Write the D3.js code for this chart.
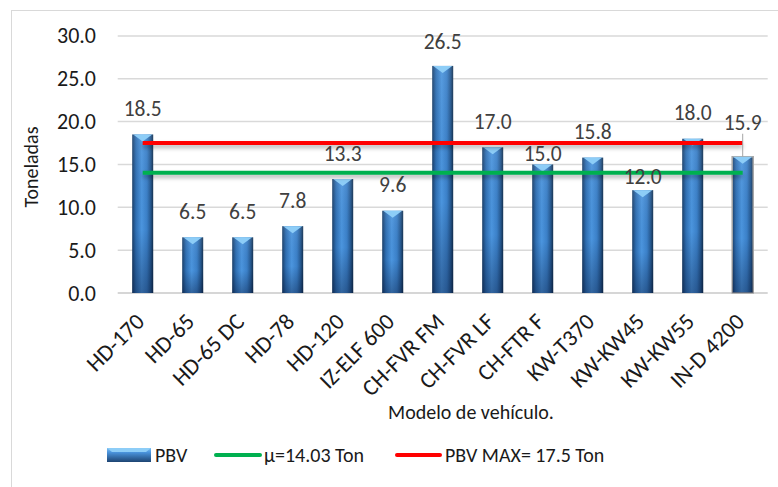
<!DOCTYPE html>
<html>
<head>
<meta charset="utf-8">
<script src="https://cdn.jsdelivr.net/npm/d3@7"></script>
<style>
  html, body { margin: 0; padding: 0; background: #fff; }
  svg { display: block; font-family: Carlito, Lato, "Open Sans", sans-serif; }
</style>
</head>
<body>
<svg id="chart" width="778" height="487"></svg>
<script>
// ---- data ----
const categories = ["HD-170", "HD-65", "HD-65 DC", "HD-78", "HD-120", "IZ-ELF 600", "CH-FVR FM", "CH-FVR LF", "CH-FTR F", "KW-T370", "KW-KW45", "KW-KW55", "IN-D 4200"];
const pbv = [18.5, 6.5, 6.5, 7.8, 13.3, 9.6, 26.5, 17.0, 15.0, 15.8, 12.0, 18.0, 15.9];
const meanValue = 14.03;
const maxValue = 17.5;
const yTicks = [0, 5, 10, 15, 20, 25, 30];
const legendLabels = ["PBV", "μ=14.03 Ton", "PBV MAX= 17.5 Ton"];
const yTitle = "Toneladas";
const xTitle = "Modelo de vehículo.";

// label vertical offsets (px above bar top) — style only
const labelGap = [18.5, 18.5, 18.5, 18.5, 18.5, 18.5, 17, 18.5, 3, 18.5, 6, 18.5, 27];

const svg = d3.select("#chart");
const FS = 20;

const x = d3.scaleBand().domain(categories).range([117.7, 767.7]).paddingInner(0.58).paddingOuter(0.29);
const y = d3.scaleLinear().domain([0, 30]).range([293, 35.9]);

// defs
const defs = svg.append("defs");
const gH = defs.append("linearGradient").attr("id", "barH").attr("x1", "0").attr("x2", "1").attr("y1", "0").attr("y2", "0");
[["0%", "#1a3f69"], ["18%", "#2f6fb3"], ["45%", "#4b95de"], ["70%", "#3b80c8"], ["88%", "#25588f"], ["100%", "#13304f"]]
  .forEach(([o, c]) => gH.append("stop").attr("offset", o).attr("stop-color", c));
const gV = defs.append("linearGradient").attr("id", "barV").attr("x1", "0").attr("x2", "0").attr("y1", "0").attr("y2", "1");
[["0%", "rgba(255,255,255,0.08)"], ["60%", "rgba(0,10,40,0)"], ["100%", "rgba(0,10,40,0.35)"]]
  .forEach(([o, c]) => gV.append("stop").attr("offset", o).attr("stop-color", c));
const f = defs.append("filter").attr("id", "lineShadow").attr("filterUnits", "userSpaceOnUse")
  .attr("x", 0).attr("y", 0).attr("width", 778).attr("height", 487);
f.append("feDropShadow").attr("dx", 0).attr("dy", 3).attr("stdDeviation", 2).attr("flood-color", "#000").attr("flood-opacity", 0.3);
const lg = defs.append("linearGradient").attr("id", "legV").attr("x1", "0").attr("x2", "0").attr("y1", "0").attr("y2", "1");
[["0%", "#7fc0f2"], ["30%", "#4b95de"], ["100%", "#1d4472"]].forEach(([o, c]) => lg.append("stop").attr("offset", o).attr("stop-color", c));

// border
svg.append("rect").attr("x", 11.5).attr("y", 10.5).attr("width", 800).attr("height", 500)
  .attr("fill", "none").attr("stroke", "#d9d9d9").attr("stroke-width", 1);

// gridlines
svg.append("g").selectAll("line").data(yTicks).join("line")
  .attr("x1", 117.7).attr("x2", 767.7)
  .attr("y1", d => y(d)).attr("y2", d => y(d))
  .attr("stroke", d => d === 0 ? "#c8c8c8" : "#d9d9d9").attr("stroke-width", 1.5);

// y axis labels
const yAxis = d3.axisLeft(y).tickValues(yTicks).tickFormat(d3.format(".1f")).tickSize(0).tickPadding(0);
const ya = svg.append("g").attr("transform", "translate(96,0)").call(yAxis);
ya.select(".domain").remove();
ya.selectAll("text").attr("font-size", 22).attr("fill", "#1a1a1a").attr("font-family", "Carlito, Lato, sans-serif");

// bars
const bars = svg.append("g");
bars.selectAll("rect.b").data(pbv).join("rect").attr("class", "b")
  .attr("x", (d, i) => x(categories[i])).attr("width", x.bandwidth())
  .attr("y", d => y(d)).attr("height", d => y(0) - y(d))
  .attr("fill", "url(#barH)")
  .attr("stroke", (d, i) => i === categories.length - 1 ? "#a6a6a6" : "none").attr("stroke-width", 1.5);
bars.selectAll("rect.v").data(pbv).join("rect").attr("class", "v")
  .attr("x", (d, i) => x(categories[i])).attr("width", x.bandwidth())
  .attr("y", d => y(d)).attr("height", d => y(0) - y(d))
  .attr("fill", "url(#barV)");
bars.selectAll("path.tip").data(pbv).join("path").attr("class", "tip")
  .attr("d", (d, i) => {
    const x0 = x(categories[i]), w = x.bandwidth(), t = y(d);
    return `M${x0 + 1},${t} L${x0 + w - 1},${t} L${x0 + w / 2},${t + 7} Z`;
  })
  .attr("fill", "#8dcdf7");

// reference lines
const xFirst = x(categories[0]) + x.bandwidth() / 2;
const xLast = x(categories[categories.length - 1]) + x.bandwidth() / 2;
svg.append("line").attr("x1", xFirst).attr("x2", xLast).attr("y1", y(meanValue)).attr("y2", y(meanValue))
  .attr("stroke", "#00b050").attr("stroke-width", 4).attr("filter", "url(#lineShadow)");
svg.append("line").attr("x1", xFirst).attr("x2", xLast).attr("y1", y(maxValue)).attr("y2", y(maxValue))
  .attr("stroke", "#ff0000").attr("stroke-width", 4).attr("filter", "url(#lineShadow)");

// leader line for last label
{
  const i = categories.length - 1;
  const cx = x(categories[i]) + x.bandwidth() / 2;
  svg.append("line").attr("x1", cx).attr("x2", cx).attr("y1", y(pbv[i]) - labelGap[i] + 4).attr("y2", y(pbv[i]))
    .attr("stroke", "#a6a6a6").attr("stroke-width", 1);
}

// data labels
svg.append("g").selectAll("text").data(pbv).join("text")
  .attr("x", (d, i) => x(categories[i]) + x.bandwidth() / 2)
  .attr("y", (d, i) => y(d) - labelGap[i])
  .attr("text-anchor", "middle").attr("font-size", 21.5).attr("fill", "#404040")
  .text(d => d3.format(".1f")(d));

// x labels
svg.append("g").selectAll("text").data(categories).join("text")
  .attr("transform", d => `translate(${x(d) + x.bandwidth() / 2 + 3},${323}) rotate(-45)`)
  .attr("text-anchor", "end").attr("font-size", 23).attr("fill", "#1a1a1a")
  .text(d => d);

// axis titles
svg.append("text").attr("transform", "translate(38,167) rotate(-90)")
  .attr("text-anchor", "middle").attr("font-size", FS).attr("fill", "#1a1a1a").text(yTitle);
svg.append("text").attr("x", 471).attr("y", 419)
  .attr("text-anchor", "middle").attr("font-size", FS).attr("fill", "#1a1a1a").text(xTitle);

// legend
const leg = svg.append("g");
leg.append("rect").attr("x", 107).attr("y", 448).attr("width", 44).attr("height", 14).attr("fill", "url(#legV)");
leg.append("path").attr("d", "M107,448 L151,448 L146,452 L112,452 Z").attr("fill", "#8dcdf7");
leg.append("text").attr("x", 155).attr("y", 462).attr("font-size", FS).attr("fill", "#1a1a1a").text(legendLabels[0]);
leg.append("line").attr("x1", 216).attr("x2", 260).attr("y1", 455).attr("y2", 455).attr("stroke", "#00b050").attr("stroke-width", 4).attr("stroke-linecap", "round");
leg.append("text").attr("x", 264).attr("y", 462).attr("font-size", FS).attr("fill", "#1a1a1a").text(legendLabels[1]);
leg.append("line").attr("x1", 397).attr("x2", 440).attr("y1", 455).attr("y2", 455).attr("stroke", "#ff0000").attr("stroke-width", 4).attr("stroke-linecap", "round");
leg.append("text").attr("x", 445).attr("y", 462).attr("font-size", FS).attr("fill", "#1a1a1a").text(legendLabels[2]);
</script>
</body>
</html>
